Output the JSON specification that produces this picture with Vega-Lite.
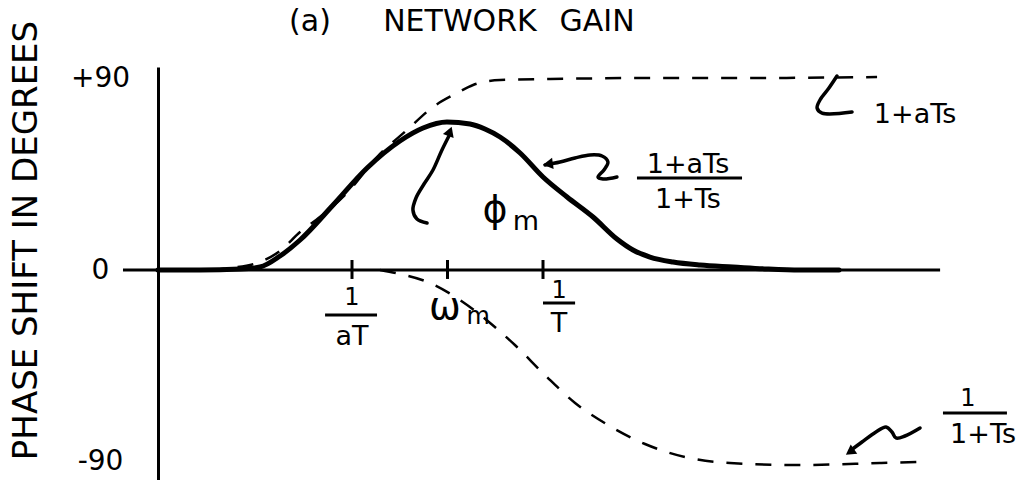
{
  "$schema": "https://vega.github.io/schema/vega-lite/v6.json",
  "description": "Phase response of a lead network: (1+aTs)/(1+Ts) and its two factors, log-frequency axis in decades of wT.",
  "width": 861,
  "height": 413,
  "autosize": {"type": "none"},
  "padding": {"left": 158, "top": 67, "right": 0, "bottom": 0},
  "background": "white",
  "config": {
    "view": {"stroke": null},
    "font": "DejaVu Sans",
    "text": {"font": "DejaVu Sans", "color": "black"}
  },
  "datasets": {
    "curves": [
      {"curve": "(1+aTs)/(1+Ts)", "x": -2.016, "y": 0},
      {"curve": "(1+aTs)/(1+Ts)", "x": -1.796, "y": 0},
      {"curve": "(1+aTs)/(1+Ts)", "x": -1.586, "y": 0.47},
      {"curve": "(1+aTs)/(1+Ts)", "x": -1.482, "y": 1.41},
      {"curve": "(1+aTs)/(1+Ts)", "x": -1.377, "y": 6.56},
      {"curve": "(1+aTs)/(1+Ts)", "x": -1.272, "y": 14.06},
      {"curve": "(1+aTs)/(1+Ts)", "x": -1.099, "y": 30.47},
      {"curve": "(1+aTs)/(1+Ts)", "x": -0.921, "y": 47.81},
      {"curve": "(1+aTs)/(1+Ts)", "x": -0.749, "y": 60.47},
      {"curve": "(1+aTs)/(1+Ts)", "x": -0.628, "y": 66.56},
      {"curve": "(1+aTs)/(1+Ts)", "x": -0.503, "y": 69.38},
      {"curve": "(1+aTs)/(1+Ts)", "x": -0.382, "y": 68.44},
      {"curve": "(1+aTs)/(1+Ts)", "x": -0.304, "y": 66.09},
      {"curve": "(1+aTs)/(1+Ts)", "x": -0.225, "y": 62.34},
      {"curve": "(1+aTs)/(1+Ts)", "x": -0.12, "y": 54.84},
      {"curve": "(1+aTs)/(1+Ts)", "x": 0.0, "y": 43.59},
      {"curve": "(1+aTs)/(1+Ts)", "x": 0.126, "y": 34.22},
      {"curve": "(1+aTs)/(1+Ts)", "x": 0.262, "y": 24.84},
      {"curve": "(1+aTs)/(1+Ts)", "x": 0.387, "y": 14.53},
      {"curve": "(1+aTs)/(1+Ts)", "x": 0.471, "y": 9.38},
      {"curve": "(1+aTs)/(1+Ts)", "x": 0.56, "y": 6.09},
      {"curve": "(1+aTs)/(1+Ts)", "x": 0.681, "y": 3.75},
      {"curve": "(1+aTs)/(1+Ts)", "x": 0.822, "y": 2.34},
      {"curve": "(1+aTs)/(1+Ts)", "x": 0.995, "y": 1.41},
      {"curve": "(1+aTs)/(1+Ts)", "x": 1.173, "y": 0.47},
      {"curve": "(1+aTs)/(1+Ts)", "x": 1.346, "y": 0},
      {"curve": "(1+aTs)/(1+Ts)", "x": 1.55, "y": 0},
      {"curve": "1+aTs", "x": -1.75, "y": 0},
      {"curve": "1+aTs", "x": -1.639, "y": 0.94},
      {"curve": "1+aTs", "x": -1.482, "y": 3.75},
      {"curve": "1+aTs", "x": -1.377, "y": 8.91},
      {"curve": "1+aTs", "x": -1.272, "y": 17.81},
      {"curve": "1+aTs", "x": -1.168, "y": 24.84},
      {"curve": "1+aTs", "x": -1.026, "y": 36.09},
      {"curve": "1+aTs", "x": -0.869, "y": 52.97},
      {"curve": "1+aTs", "x": -0.712, "y": 65.63},
      {"curve": "1+aTs", "x": -0.576, "y": 76.41},
      {"curve": "1+aTs", "x": -0.45, "y": 82.97},
      {"curve": "1+aTs", "x": -0.366, "y": 86.72},
      {"curve": "1+aTs", "x": -0.225, "y": 89.06},
      {"curve": "1+aTs", "x": 0.037, "y": 89.53},
      {"curve": "1+aTs", "x": 0.56, "y": 90},
      {"curve": "1+aTs", "x": 1.084, "y": 90},
      {"curve": "1+aTs", "x": 1.749, "y": 90.47},
      {"curve": "1/(1+Ts)", "x": -0.853, "y": 0},
      {"curve": "1/(1+Ts)", "x": -0.749, "y": -1.88},
      {"curve": "1/(1+Ts)", "x": -0.592, "y": -6.09},
      {"curve": "1/(1+Ts)", "x": -0.435, "y": -14.06},
      {"curve": "1/(1+Ts)", "x": -0.277, "y": -24.84},
      {"curve": "1/(1+Ts)", "x": -0.147, "y": -35.16},
      {"curve": "1/(1+Ts)", "x": 0.01, "y": -49.22},
      {"curve": "1/(1+Ts)", "x": 0.168, "y": -62.34},
      {"curve": "1/(1+Ts)", "x": 0.34, "y": -72.66},
      {"curve": "1/(1+Ts)", "x": 0.534, "y": -81.56},
      {"curve": "1/(1+Ts)", "x": 0.743, "y": -87.66},
      {"curve": "1/(1+Ts)", "x": 0.979, "y": -90.47},
      {"curve": "1/(1+Ts)", "x": 1.346, "y": -91.41},
      {"curve": "1/(1+Ts)", "x": 1.764, "y": -90.47},
      {"curve": "1/(1+Ts)", "x": 1.958, "y": -90}
    ],
    "strokes": [
      {"kind": "axis", "x": -2.199, "x2": 2.079, "y": 0, "y2": 0},
      {"kind": "tick", "x": -1.0, "x2": -1.0, "y": 4.7, "y2": -4.2},
      {"kind": "tick", "x": -0.5, "x2": -0.5, "y": 4.7, "y2": -4.2},
      {"kind": "tick", "x": 0.0, "x2": 0.0, "y": 4.7, "y2": -4.2},
      {"kind": "bar", "x": -1.141, "x2": -0.869, "y": -21.09, "y2": -21.09},
      {"kind": "bar", "x": 0.0, "x2": 0.168, "y": -15.47, "y2": -15.47},
      {"kind": "bar", "x": 0.492, "x2": 1.042, "y": 43.13, "y2": 43.13},
      {"kind": "bar", "x": 2.094, "x2": 2.429, "y": -67.03, "y2": -67.03}
    ],
    "pointers": [
      {"to": "1+aTs", "i": 0, "x": 1.539, "y": 90.94},
      {"to": "1+aTs", "i": 1, "x": 1.497, "y": 85.31},
      {"to": "1+aTs", "i": 2, "x": 1.45, "y": 79.69},
      {"to": "1+aTs", "i": 3, "x": 1.435, "y": 75.94},
      {"to": "1+aTs", "i": 4, "x": 1.461, "y": 73.59},
      {"to": "1+aTs", "i": 5, "x": 1.618, "y": 74.06},
      {"to": "ratio", "i": 0, "x": 0.0105, "y": 49.22},
      {"to": "ratio", "i": 1, "x": 0.089, "y": 50.63},
      {"to": "ratio", "i": 2, "x": 0.1675, "y": 52.5},
      {"to": "ratio", "i": 3, "x": 0.246, "y": 53.91},
      {"to": "ratio", "i": 4, "x": 0.309, "y": 53.44},
      {"to": "ratio", "i": 5, "x": 0.34, "y": 50.63},
      {"to": "ratio", "i": 6, "x": 0.319, "y": 46.88},
      {"to": "ratio", "i": 7, "x": 0.288, "y": 43.59},
      {"to": "ratio", "i": 8, "x": 0.314, "y": 42.66},
      {"to": "ratio", "i": 9, "x": 0.387, "y": 43.59},
      {"to": "phi_m", "i": 0, "x": -0.487, "y": 63.75},
      {"to": "phi_m", "i": 1, "x": -0.529, "y": 56.25},
      {"to": "phi_m", "i": 2, "x": -0.576, "y": 46.88},
      {"to": "phi_m", "i": 3, "x": -0.623, "y": 40.31},
      {"to": "phi_m", "i": 4, "x": -0.665, "y": 33.75},
      {"to": "phi_m", "i": 5, "x": -0.681, "y": 28.13},
      {"to": "phi_m", "i": 6, "x": -0.66, "y": 23.91},
      {"to": "phi_m", "i": 7, "x": -0.607, "y": 22.03},
      {"to": "1/(1+Ts)", "i": 0, "x": 1.607, "y": -84.84},
      {"to": "1/(1+Ts)", "i": 1, "x": 1.67, "y": -80.63},
      {"to": "1/(1+Ts)", "i": 2, "x": 1.743, "y": -75.94},
      {"to": "1/(1+Ts)", "i": 3, "x": 1.796, "y": -73.59},
      {"to": "1/(1+Ts)", "i": 4, "x": 1.827, "y": -75.94},
      {"to": "1/(1+Ts)", "i": 5, "x": 1.848, "y": -78.75},
      {"to": "1/(1+Ts)", "i": 6, "x": 1.895, "y": -77.81},
      {"to": "1/(1+Ts)", "i": 7, "x": 1.974, "y": -74.06}
    ],
    "heads": [
      {"to": "ratio", "x": 0.026, "y": 49.69, "dir": 262},
      {"to": "phi_m", "x": -0.487, "y": 65.0, "dir": 20},
      {"to": "1/(1+Ts)", "x": 1.607, "y": -85.31, "dir": 235}
    ],
    "notes": [
      {"role": "heading", "x": -1.22, "y": 116.25, "text": "(a)"},
      {"role": "heading", "x": -0.435, "y": 116.25, "text": "NETWORK"},
      {"role": "heading", "x": 0.283, "y": 116.25, "text": "GAIN"},
      {"role": "small", "x": -1.0, "y": -13.13, "text": "1"},
      {"role": "label", "x": -1.0, "y": -31.41, "text": "aT"},
      {"role": "greek", "x": -0.513, "y": -17.81, "text": "ω"},
      {"role": "small", "x": -0.34, "y": -22.0, "text": "m"},
      {"role": "small", "x": 0.084, "y": -9.84, "text": "1"},
      {"role": "label", "x": 0.084, "y": -25.31, "text": "T"},
      {"role": "greek", "x": -0.251, "y": 27.66, "text": "ϕ"},
      {"role": "label", "x": -0.09, "y": 22.5, "text": "m"},
      {"role": "label", "x": 1.948, "y": 72.66, "text": "1+aTs"},
      {"role": "label", "x": 0.759, "y": 49.22, "text": "1+aTs"},
      {"role": "label", "x": 0.759, "y": 32.81, "text": "1+Ts"},
      {"role": "small", "x": 2.225, "y": -60.47, "text": "1"},
      {"role": "label", "x": 2.304, "y": -77.34, "text": "1+Ts"}
    ]
  },
  "encoding": {
    "x": {
      "field": "x",
      "type": "quantitative",
      "scale": {"domain": [-2.0157, 2.4921], "nice": false, "zero": false},
      "axis": null
    },
    "y": {
      "field": "y",
      "type": "quantitative",
      "scale": {"domain": [-98.44, 95.16], "nice": false, "zero": false},
      "axis": {
        "values": [-90, 0, 90],
        "labelExpr": "datum.value > 0 ? '+90' : datum.value < 0 ? '-90' : '0'",
        "grid": false,
        "ticks": false,
        "tickSize": 0,
        "domain": true,
        "domainColor": "black",
        "domainWidth": 3,
        "labelFont": "DejaVu Sans",
        "labelFontSize": 28,
        "labelColor": "black",
        "labelAlign": "center",
        "labelBaseline": "middle",
        "labelPadding": 58,
        "labelFlush": false,
        "labelOverlap": false,
        "title": "PHASE SHIFT IN DEGREES",
        "titleFont": "DejaVu Sans",
        "titleFontSize": 34,
        "titleFontWeight": "normal",
        "titleColor": "black",
        "titleAngle": -90,
        "titleAlign": "center",
        "titleBaseline": "middle",
        "titleX": -132,
        "titleY": 173
      }
    }
  },
  "layer": [
    {
      "data": {"name": "strokes"},
      "mark": {"type": "rule", "color": "black", "strokeWidth": 3},
      "encoding": {"x2": {"field": "x2"}, "y2": {"field": "y2"}}
    },
    {
      "data": {"name": "curves"},
      "transform": [{"filter": "datum.curve === '(1+aTs)/(1+Ts)'"}],
      "mark": {"type": "line", "color": "black", "strokeWidth": 5, "interpolate": "monotone", "strokeCap": "round"}
    },
    {
      "data": {"name": "curves"},
      "transform": [{"filter": "datum.curve !== '(1+aTs)/(1+Ts)'"}],
      "mark": {"type": "line", "color": "black", "strokeWidth": 2.5, "strokeDash": [16, 13], "interpolate": "monotone"},
      "encoding": {"detail": {"field": "curve"}}
    },
    {
      "data": {"name": "pointers"},
      "mark": {"type": "line", "color": "black", "strokeWidth": 3.5, "interpolate": "catmull-rom", "strokeCap": "round", "strokeJoin": "round"},
      "encoding": {"detail": {"field": "to"}, "order": {"field": "i"}}
    },
    {
      "data": {"name": "heads"},
      "mark": {"type": "point", "shape": "triangle-up", "filled": true, "color": "black", "opacity": 1, "size": 130},
      "encoding": {"angle": {"field": "dir", "type": "quantitative", "scale": null}}
    },
    {
      "data": {"name": "notes"},
      "transform": [{"filter": "datum.role === 'heading'"}],
      "mark": {"type": "text", "fontSize": 30, "align": "center", "baseline": "middle"},
      "encoding": {"text": {"field": "text"}}
    },
    {
      "data": {"name": "notes"},
      "transform": [{"filter": "datum.role === 'small'"}],
      "mark": {"type": "text", "fontSize": 24, "align": "center", "baseline": "middle"},
      "encoding": {"text": {"field": "text"}}
    },
    {
      "data": {"name": "notes"},
      "transform": [{"filter": "datum.role === 'label'"}],
      "mark": {"type": "text", "fontSize": 27, "align": "center", "baseline": "middle"},
      "encoding": {"text": {"field": "text"}}
    },
    {
      "data": {"name": "notes"},
      "transform": [{"filter": "datum.role === 'greek'"}],
      "mark": {"type": "text", "fontSize": 38, "align": "center", "baseline": "middle"},
      "encoding": {"text": {"field": "text"}}
    }
  ]
}
